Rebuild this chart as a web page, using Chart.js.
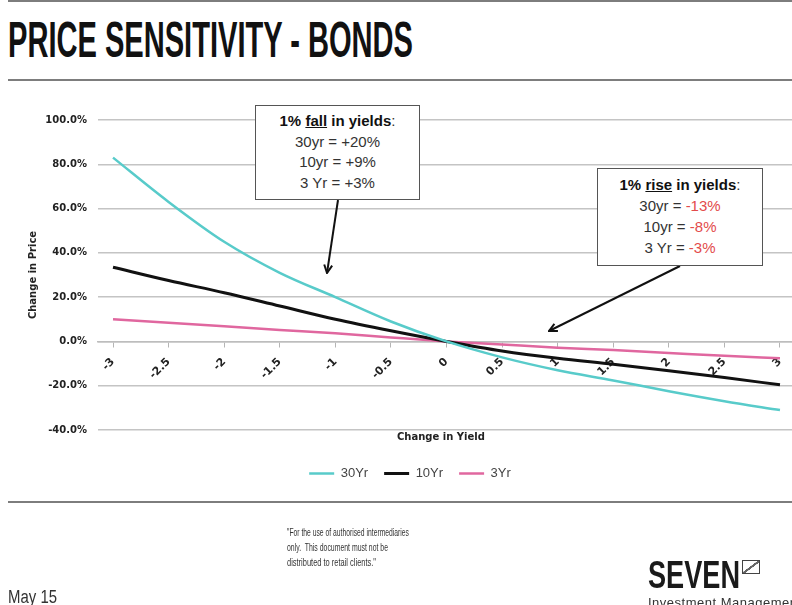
<!DOCTYPE html>
<html>
<head>
<meta charset="utf-8">
<script src="https://cdn.jsdelivr.net/npm/chart.js@4"></script>
<style>
  html, body { margin: 0; padding: 0; background: #fff; width: 792px; height: 605px; overflow: hidden; }
  body { position: relative; font-family: "Liberation Sans", Arial, sans-serif; color: #333; }
  .rule { position: absolute; left: 8px; width: 784px; height: 2px; background: #7d7d7d; }
  .fit { display: inline-block; white-space: nowrap; transform-origin: 0 50%; }
  #title { position: absolute; left: 8px; top: 15px; font: bold 50px/50px "Liberation Sans Narrow", "Arial Narrow", sans-serif; color: #111; }
  #chartBox { position: absolute; left: 0; top: 100px; width: 820px; height: 385px; }
  #xTitle { position: absolute; left: 397px; top: 431px; font: bold 10px "DejaVu Sans", sans-serif; color: #222; }
  .note { position: absolute; background: #fff; border: 1.5px solid #555; text-align: center; font-size: 15px; line-height: 20.5px; color: #333; box-sizing: border-box; padding-top: 5px; }
  .note b { color: #111; }
  .red { color: #e34b4b; }
  #arrows { position: absolute; left: 0; top: 0; }
  #footer { position: absolute; left: 287px; top: 525px; font: 11.5px/15px "Liberation Sans Narrow", "Arial Narrow", sans-serif; color: #333; }
  #footer div { height: 15px; }
  #date { position: absolute; left: 8px; top: 587px; font: 18px/20px "Liberation Sans Narrow", "Arial Narrow", sans-serif; color: #333; }
  #logo { position: absolute; left: 648px; top: 556px; font: bold 38px/38px "Liberation Sans Narrow", "Arial Narrow", sans-serif; color: #1a1a1a; }
  #logoMark { position: absolute; left: 742px; top: 560px; width: 16px; height: 12px; border: 1.5px solid #444;
    background: linear-gradient(to bottom right, transparent 45%, #666 46%, #666 56%, transparent 57%); }
  #tagline { position: absolute; left: 648px; top: 595px; font: 13px/16px "Liberation Sans", Arial, sans-serif; letter-spacing: 0.5px; color: #333; white-space: nowrap; }
</style>
</head>
<body>
<div class="rule" style="top:0"></div>
<div id="title"><span class="fit" data-fit="405">PRICE SENSITIVITY - BONDS</span></div>
<div class="rule" style="top:79px"></div>

<div id="chartBox"><canvas id="bondChart" width="820" height="385"></canvas></div>
<div id="xTitle">Change in Yield</div>

<svg id="arrows" width="792" height="605">
  <defs>
    <marker id="ah" viewBox="0 0 10 10" refX="9" refY="5" markerWidth="5" markerHeight="5" orient="auto">
      <path d="M1,1 L9,5 L1,9" fill="none" stroke="#111" stroke-width="2"/>
    </marker>
  </defs>
  <line x1="338" y1="200" x2="327" y2="273" stroke="#111" stroke-width="2" marker-end="url(#ah)"/>
  <line x1="680" y1="266" x2="549" y2="331" stroke="#111" stroke-width="2" marker-end="url(#ah)"/>
</svg>

<div class="note" style="left:255px;top:105px;width:165px;height:95px">
  <b>1% <u>fall</u> in yields</b>:<br>30yr = +20%<br>10yr = +9%<br>3 Yr = +3%
</div>
<div class="note" style="left:597px;top:168px;width:166px;height:98px;line-height:21px">
  <b>1% <u>rise</u> in yields</b>:<br>30yr = <span class="red">-13%</span><br>10yr = <span class="red">-8%</span><br>3 Yr = <span class="red">-3%</span>
</div>

<div class="rule" style="top:501px"></div>
<div id="footer">
  <div><span class="fit" data-fit="122">"For the use of authorised intermediaries</span></div>
  <div><span class="fit" data-fit="101">only.&nbsp; This document must not be</span></div>
  <div><span class="fit" data-fit="89">distributed to retail clients."</span></div>
</div>
<div id="date"><span class="fit" data-fit="49">May 15</span></div>
<div id="logo"><span class="fit" data-fit="92">SEVEN</span></div>
<div id="logoMark"></div>
<div id="tagline">Investment Management</div>

<script>
// change in yield (percentage points) and price change (%)
const yieldChanges = [-3, -2.5, -2, -1.5, -1, -0.5, 0, 0.5, 1, 1.5, 2, 2.5, 3];
const xTickLabels = ['-3', '-2.5', '-2', '-1.5', '-1', '-0.5', '0', '0.5', '1', '1.5', '2', '2.5', '3'];
const seriesNames = ['30Yr', '10Yr', '3Yr'];
const price30yr = [83, 63, 45, 31, 20, 9, 0, -7.2, -13, -17.6, -22.5, -27, -31];
const price10yr = [33.5, 27.5, 22, 16, 10, 4.8, 0, -4.3, -7.6, -10.3, -13.2, -16.3, -19.6];
const price3yr = [10, 8.4, 6.8, 5.2, 3.7, 1.8, 0, -1.4, -2.8, -3.9, -5.2, -6.5, -7.6];
const yTickValues = [-40, -20, 0, 20, 40, 60, 80, 100];

// fit condensed texts to the widths seen in the slide
document.querySelectorAll('.fit').forEach(el => {
  const w = el.getBoundingClientRect().width;
  el.style.transform = 'scaleX(' + (el.dataset.fit / w) + ')';
});

const toPoints = vals => vals.map((v, i) => ({ x: yieldChanges[i], y: v }));

// legend sits lower than the plot, below the axis title
const legendGap = {
  id: 'legendGap',
  afterLayout(chart) {
    chart.legend.top += 21;
    chart.legend.bottom += 21;
  }
};

new Chart(document.getElementById('bondChart').getContext('2d'), {
  type: 'line',
  data: {
    datasets: [
      { label: seriesNames[0], data: toPoints(price30yr), borderColor: '#58cbca', backgroundColor: '#58cbca', borderWidth: 2.5 },
      { label: seriesNames[1], data: toPoints(price10yr), borderColor: '#111111', backgroundColor: '#111111', borderWidth: 3 },
      { label: seriesNames[2], data: toPoints(price3yr), borderColor: '#e0679f', backgroundColor: '#e0679f', borderWidth: 2.5 }
    ]
  },
  options: {
    responsive: false,
    animation: false,
    cubicInterpolationMode: 'monotone',
    elements: { point: { radius: 0 } },
    layout: { padding: { top: 20, bottom: 16, left: 0, right: 0 } },
    plugins: {
      tooltip: { enabled: false },
      legend: {
        position: 'bottom',
        labels: {
          usePointStyle: true,
          pointStyle: 'line',
          pointStyleWidth: 25,
          padding: 16,
          color: '#444',
          font: { family: 'Liberation Sans', size: 13 }
        }
      }
    },
    scales: {
      x: {
        type: 'linear',
        position: { y: 0 },
        min: yieldChanges[0] - 0.135,
        max: yieldChanges[yieldChanges.length - 1] + 0.36,
        afterBuildTicks: scale => { scale.ticks = yieldChanges.map(v => ({ value: v })); },
        ticks: {
          autoSkip: false,
          minRotation: 45,
          maxRotation: 45,
          padding: 9,
          color: '#222',
          font: { family: 'DejaVu Sans', size: 11, weight: 'bold' },
          callback: (v, i) => xTickLabels[i]
        },
        grid: { drawOnChartArea: false, drawTicks: true, tickLength: 5, color: '#b5b5b5' },
        border: { color: '#bdbdbd', width: 1.5 }
      },
      y: {
        min: yTickValues[0],
        max: yTickValues[yTickValues.length - 1],
        afterBuildTicks: scale => { scale.ticks = yTickValues.map(v => ({ value: v })); },
        afterFit: scale => { scale.width = 98; },
        ticks: {
          padding: 11,
          color: '#222',
          font: { family: 'DejaVu Sans', size: 10, weight: 'bold' },
          callback: v => v.toFixed(1) + '%'
        },
        grid: { color: '#c4c4c4', lineWidth: 1.5, drawTicks: false },
        border: { display: false },
        title: {
          display: true,
          text: 'Change in Price',
          color: '#222',
          font: { family: 'DejaVu Sans', size: 10, weight: 'bold' },
          padding: { top: 27, bottom: 0 }
        }
      }
    }
  },
  plugins: [legendGap]
});
</script>
</body>
</html>
